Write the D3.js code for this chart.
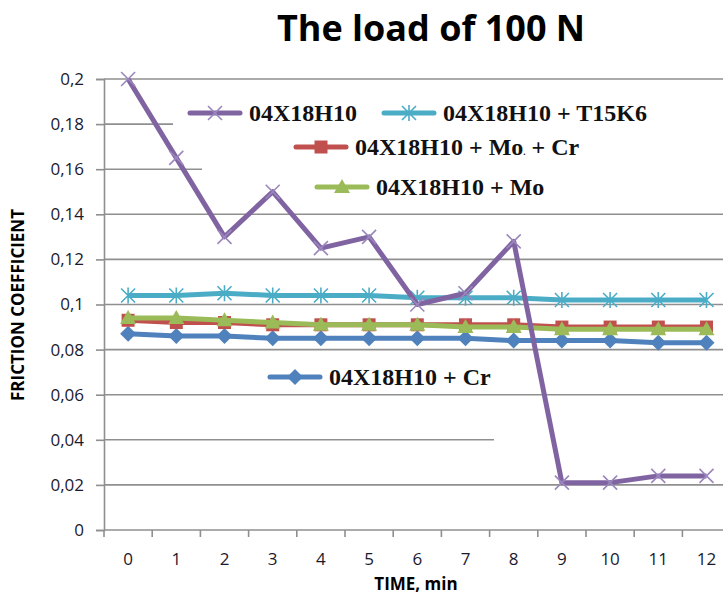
<!DOCTYPE html>
<html>
<head>
<meta charset="utf-8">
<script src="https://cdn.jsdelivr.net/npm/d3@7"></script>
<style>
  html, body { margin: 0; padding: 0; background: #fff; }
  svg { display: block; }
</style>
</head>
<body>
<svg id="chart" width="723" height="601"></svg>
<script>
// Time points (min)
const times = [0, 1, 2, 3, 4, 5, 6, 7, 8, 9, 10, 11, 12];

// Friction coefficient per coating
const base      = [0.200, 0.165, 0.130, 0.150, 0.125, 0.130, 0.100, 0.105, 0.128, 0.021, 0.021, 0.024, 0.024];
const withT15K6 = [0.104, 0.104, 0.105, 0.104, 0.104, 0.104, 0.103, 0.103, 0.103, 0.102, 0.102, 0.102, 0.102];
const withMoCr  = [0.093, 0.092, 0.092, 0.091, 0.091, 0.091, 0.091, 0.091, 0.091, 0.090, 0.090, 0.090, 0.090];
const withMo    = [0.094, 0.094, 0.093, 0.092, 0.091, 0.091, 0.091, 0.090, 0.090, 0.089, 0.089, 0.089, 0.089];
const withCr    = [0.087, 0.086, 0.086, 0.085, 0.085, 0.085, 0.085, 0.085, 0.084, 0.084, 0.084, 0.083, 0.083];

const yTickValues = [0, 0.02, 0.04, 0.06, 0.08, 0.1, 0.12, 0.14, 0.16, 0.18, 0.2];

const titleText = "The load of 100 N";
const xTitle = "TIME, min";
const yTitle = "FRICTION COEFFICIENT";

const svg = d3.select("#chart");
const W = 723, H = 601;

const x = d3.scaleBand().domain(times).range([104, 104 + 13 * 48.2]).padding(0);
const y = d3.scaleLinear().domain([0, 0.2]).range([530, 79]);
const cx = d => x(d) + x.bandwidth() / 2;

const commaFmt = d3.formatLocale({ decimal: ",", thousands: " ", grouping: [3], currency: ["", ""] }).format("~g");

const gridColor = "#8f8f8f";
const labelFont = "'Open Sans', sans-serif";

// Title
svg.append("text")
  .attr("x", 431).attr("y", 41)
  .attr("text-anchor", "middle")
  .style("font-family", labelFont)
  .style("font-weight", "700")
  .style("font-size", "36px")
  .attr("fill", "#000")
  .text(titleText);

// Horizontal gridlines
svg.append("g").selectAll("line")
  .data(yTickValues.filter(v => v > 0))
  .join("line")
  .attr("x1", 104).attr("x2", W)
  .attr("y1", d => y(d)).attr("y2", d => y(d))
  .attr("stroke", gridColor).attr("stroke-width", 1.6);

// Legend backgrounds (hide gridlines beneath the legend entries)
const legendBg = [
  { x0: 173, y0: 96, x1: W, y1: 146 },
  { x0: 202, y0: 146, x1: W, y1: 205 },
  { x0: 494, y0: 400, x1: W, y1: 460 }
];
svg.append("g").selectAll("rect")
  .data(legendBg)
  .join("rect")
  .attr("x", d => d.x0).attr("y", d => d.y0)
  .attr("width", d => d.x1 - d.x0).attr("height", d => d.y1 - d.y0)
  .attr("fill", "#fff");

// Y axis
const yAxis = d3.axisLeft(y).tickValues(yTickValues).tickSize(8).tickPadding(12).tickFormat(commaFmt);
const gy = svg.append("g").attr("transform", "translate(104,0)").call(yAxis);
gy.select(".domain").attr("stroke", gridColor).attr("stroke-width", 1.6);
gy.selectAll(".tick line").attr("stroke", gridColor).attr("stroke-width", 1.6);
gy.selectAll(".tick text")
  .style("font-family", labelFont).style("font-size", "17px").attr("fill", "#1a1a2e");

// X axis: labels at band centres, tick marks at band boundaries
const xAxis = d3.axisBottom(x).tickSize(0).tickPadding(23);
const gx = svg.append("g").attr("transform", "translate(0,530)").call(xAxis);
gx.select(".domain").remove();
gx.selectAll(".tick text")
  .style("font-family", labelFont).style("font-size", "17px").attr("fill", "#1a1a2e");
svg.append("line")
  .attr("x1", 104).attr("x2", W).attr("y1", y(0)).attr("y2", y(0))
  .attr("stroke", gridColor).attr("stroke-width", 1.6);
svg.append("g").selectAll("line")
  .data(times)
  .join("line")
  .attr("x1", d => x(d)).attr("x2", d => x(d))
  .attr("y1", y(0)).attr("y2", y(0) + 7)
  .attr("stroke", gridColor).attr("stroke-width", 1.6);

// Axis titles
svg.append("text")
  .attr("x", 416).attr("y", 590)
  .attr("text-anchor", "middle")
  .style("font-family", labelFont).style("font-weight", "700").style("font-size", "17px")
  .attr("fill", "#000")
  .text(xTitle);
svg.append("text")
  .attr("transform", "translate(24,305) rotate(-90)")
  .attr("text-anchor", "middle")
  .style("font-family", labelFont).style("font-weight", "700").style("font-size", "17px")
  .attr("fill", "#000")
  .text(yTitle);

// Marker painters
function drawMarker(g, type, color, px, py) {
  if (type === "x") {
    const s = 7;
    g.append("path")
      .attr("d", `M${px - s},${py - s}L${px + s},${py + s}M${px - s},${py + s}L${px + s},${py - s}`)
      .attr("stroke", "#9b87bd").attr("stroke-width", 1.6).attr("fill", "none");
  } else if (type === "star") {
    const s = 7;
    g.append("path")
      .attr("d", `M${px - s},${py - s}L${px + s},${py + s}M${px - s},${py + s}L${px + s},${py - s}M${px},${py - s - 1}L${px},${py + s + 1}`)
      .attr("stroke", color).attr("stroke-width", 1.6).attr("fill", "none");
  } else if (type === "square") {
    g.append("rect")
      .attr("x", px - 6.5).attr("y", py - 6.5).attr("width", 13).attr("height", 13)
      .attr("fill", color);
  } else if (type === "triangle") {
    g.append("path")
      .attr("d", `M${px},${py - 8}L${px + 8},${py + 6}L${px - 8},${py + 6}Z`)
      .attr("fill", color);
  } else if (type === "diamond") {
    g.append("path")
      .attr("d", `M${px},${py - 8}L${px + 8},${py}L${px},${py + 8}L${px - 8},${py}Z`)
      .attr("fill", color);
  }
}

const series = [
  { name: "04X18H10 + Cr", values: withCr, color: "#4F81BD", marker: "diamond" },
  { name: "04X18H10 + Mo + Cr", values: withMoCr, color: "#C0504D", marker: "square" },
  { name: "04X18H10 + Mo", values: withMo, color: "#9BBB59", marker: "triangle" },
  { name: "04X18H10 + T15K6", values: withT15K6, color: "#4BACC6", marker: "star" },
  { name: "04X18H10", values: base, color: "#8064A2", marker: "x" }
];

const line = d3.line().x((d, i) => cx(times[i])).y(d => y(d));

const plot = svg.append("g");
series.forEach(s => {
  const g = plot.append("g");
  g.append("path")
    .attr("d", line(s.values))
    .attr("fill", "none")
    .attr("stroke", s.color)
    .attr("stroke-width", 5)
    .attr("stroke-linejoin", "round");
  s.values.forEach((v, i) => drawMarker(g, s.marker, s.color, cx(times[i]), y(v)));
});

// Legend entries
const legendFont = "'Liberation Serif', 'Times New Roman', serif";
const legendItems = [
  { s: series[4], lx: 190, ly: 113, parts: [["04X18H10", null]] },
  { s: series[3], lx: 384, ly: 113, parts: [["04X18H10 + T15K6", null]] },
  { s: series[1], lx: 296, ly: 147, parts: [["04X18H10 + Mo", null], [".", "9px"], [" + Cr", null]] },
  { s: series[2], lx: 317, ly: 187, parts: [["04X18H10 + Mo", null]] },
  { s: series[0], lx: 270, ly: 377, parts: [["04X18H10 + Cr", null]] }
];
const leg = svg.append("g");
legendItems.forEach(item => {
  const g = leg.append("g");
  const len = 50;
  g.append("line")
    .attr("x1", item.lx).attr("x2", item.lx + len)
    .attr("y1", item.ly).attr("y2", item.ly)
    .attr("stroke", item.s.color).attr("stroke-width", 5).attr("stroke-linecap", "round");
  drawMarker(g, item.s.marker, item.s.color, item.lx + len / 2, item.ly);
  const t = g.append("text")
    .attr("x", item.lx + len + 9).attr("y", item.ly + 8)
    .style("font-family", legendFont).style("font-weight", "700").style("font-size", "24px")
    .attr("fill", "#111");
  item.parts.forEach(([txt, fs]) => {
    const sp = t.append("tspan").text(txt);
    if (fs) sp.style("font-size", fs);
  });
});
</script>
</body>
</html>
